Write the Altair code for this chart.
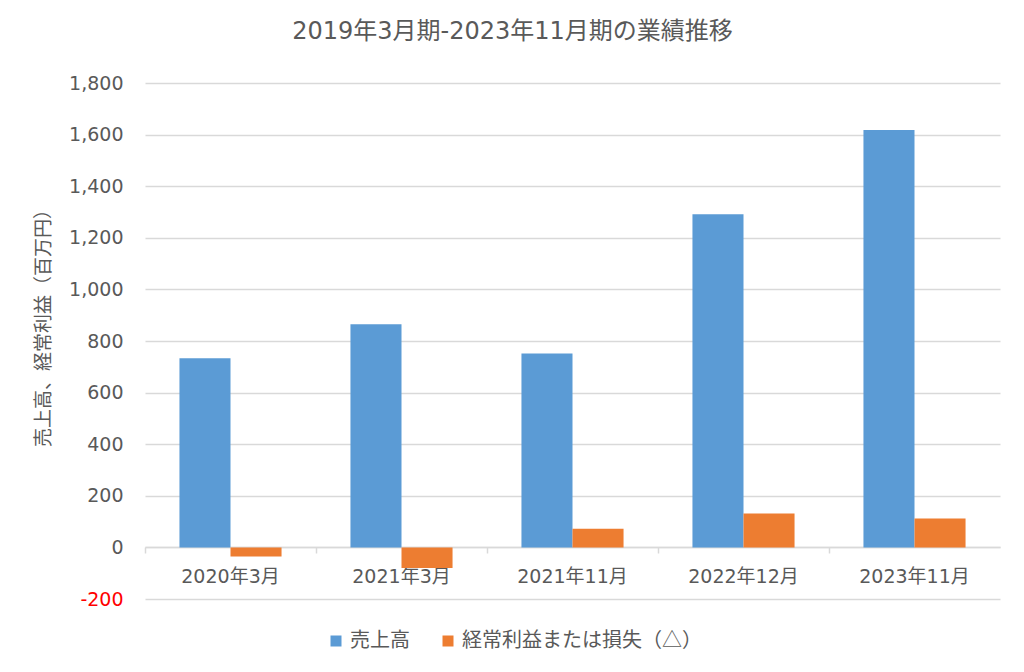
import altair as alt
import pandas as pd

categories = ["2020年3月", "2021年3月", "2021年11月", "2022年12月", "2023年11月"]
series_names = ["売上高", "経常利益または損失（△）"]
sales = [733, 865, 752, 1291, 1618]
profit = [-35, -80, 72, 131, 112]
colors = ["#5B9BD5", "#ED7D31"]

rows = []
for c, s, p in zip(categories, sales, profit):
    rows.append({"period": c, "series": series_names[0], "value": s})
    rows.append({"period": c, "series": series_names[1], "value": p})
df = pd.DataFrame(rows)

FONT = "DejaVu Sans, Noto Sans CJK JP"
CJK = "Noto Sans CJK JP"
GRAY = "#595959"

bars = alt.Chart(df).mark_bar().encode(
    x=alt.X("period:N", sort=categories,
            scale=alt.Scale(paddingInner=0, paddingOuter=0),
            axis=alt.Axis(title=None, labelAngle=0, offset=-52, bandPosition=0,
                          domainColor="#d9d9d9", domainWidth=1.5,
                          tickColor="#d9d9d9", tickSize=6, tickWidth=1.5,
                          labelColor=GRAY, labelFontSize=19, labelFont=FONT,
                          labelPadding=14, grid=False)),
    xOffset=alt.XOffset("series:N", sort=series_names,
                        scale=alt.Scale(paddingInner=0, paddingOuter=0.675)),
    y=alt.Y("value:Q",
            scale=alt.Scale(domain=[-200, 1800], nice=False, zero=False),
            axis=alt.Axis(title="売上高、経常利益（百万円）", values=list(range(-200, 1801, 200)),
                          labelExpr="datum.value < 0 ? '-' + format(-datum.value, ',d') : format(datum.value, ',d')",
                          domain=False, ticks=False,
                          gridColor="#d9d9d9", gridWidth=1.5,
                          labelColor=alt.ExprRef("datum.value < 0 ? 'red' : '#595959'"),
                          labelFontSize=19, labelFont=FONT, labelPadding=22,
                          titleColor=GRAY, titleFontSize=19, titleFont=CJK,
                          titleFontWeight="normal",
                          titleX=-92, titleY=240, titleAngle=-90)),
    color=alt.Color("series:N", sort=series_names,
                    scale=alt.Scale(domain=series_names, range=colors),
                    legend=alt.Legend(title=None, orient="none", direction="horizontal",
                                      legendX=181, legendY=548,
                                      symbolType="square", symbolSize=121,
                                      symbolStrokeWidth=0, labelFontSize=20,
                                      labelFont=CJK, labelColor=GRAY,
                                      columnPadding=28, labelLimit=400)),
)

chart = bars.properties(
    width=855,
    height=516,
    title=alt.TitleParams("2019年3月期-2023年11月期の業績推移", fontSize=24, font=FONT,
                          color=GRAY, fontWeight="normal", anchor="middle",
                          offset=30, dx=-60),
    autosize=alt.AutoSizeParams(type="none"),
    padding={"left": 145, "top": 83, "right": 24, "bottom": 73},
).configure(background="white").configure_view(stroke=None, strokeWidth=0)

chart.save("out.html", embed_options={"renderer": "svg", "actions": False})
